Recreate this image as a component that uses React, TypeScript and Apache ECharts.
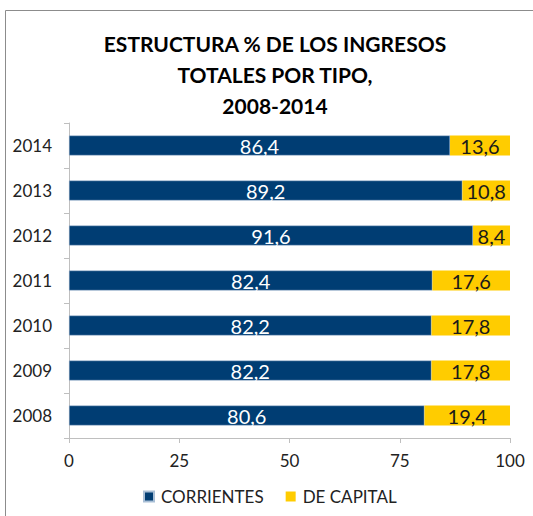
import React, { useEffect, useRef } from "react";
import * as echarts from "echarts";

const years = ["2008", "2009", "2010", "2011", "2012", "2013", "2014"];
const corrientes = [80.6, 82.2, 82.2, 82.4, 91.6, 89.2, 86.4];
const deCapital = [19.4, 17.8, 17.8, 17.6, 8.4, 10.8, 13.6];
const seriesNames = ["CORRIENTES", "DE CAPITAL"];
const titleText = "ESTRUCTURA % DE LOS INGRESOS\nTOTALES POR TIPO,\n2008-2014";

const FONT = "Lato";

export default function App() {
  const ref = useRef<HTMLDivElement>(null);
  useEffect(() => {
    if (!ref.current) return;
    const chart = echarts.init(ref.current, undefined, { renderer: "svg" });
    const fmt = (p: any) => String(p.value).replace(".", ",");
    chart.setOption({
      animation: false,
      backgroundColor: "#ffffff",
      title: {
        text: titleText,
        left: 270,
        textAlign: "center",
        top: 23,
        textStyle: {
          fontFamily: FONT,
          fontSize: 21,
          fontWeight: "bold",
          color: "#000",
          lineHeight: 31,
        },
      },
      graphic: [
        {
          type: "rect",
          shape: { x: 5.5, y: 10.5, width: 600, height: 600 },
          style: { fill: "none", stroke: "#8c8c8c", lineWidth: 1 },
          silent: true,
        },
      ],
      legend: {
        data: seriesNames,
        bottom: 6,
        left: 138,
        padding: 5,
        icon: "rect",
        itemWidth: 10,
        itemHeight: 10,
        itemGap: 22,
        textStyle: { fontFamily: FONT, fontSize: 17, color: "#222", padding: [0, 0, 0, 2] },
      },
      grid: { left: 69, right: 23, top: 123, bottom: 78 },
      xAxis: {
        type: "value",
        min: 0,
        max: 100,
        interval: 25,
        splitLine: { show: false },
        axisLine: { show: true, lineStyle: { color: "#bfbfbf" } },
        axisTick: { show: true, length: 5, lineStyle: { color: "#bfbfbf" } },
        axisLabel: { fontFamily: FONT, fontSize: 17, color: "#222", margin: 14 },
      },
      yAxis: {
        type: "category",
        data: years,
        axisLine: { show: true, lineStyle: { color: "#bfbfbf" } },
        axisTick: { show: true, length: 5, lineStyle: { color: "#bfbfbf" } },
        axisLabel: { fontFamily: FONT, fontSize: 17, color: "#222", margin: 17 },
      },
      series: [
        {
          name: seriesNames[0],
          type: "bar",
          stack: "total",
          data: corrientes,
          barWidth: 20,
          itemStyle: { color: "#003d73", borderColor: "#a9bfd6", borderWidth: 0.5 },
          label: {
            show: true,
            position: "inside",
            formatter: fmt,
            fontFamily: FONT,
            fontSize: 20,
            color: "#ffffff",
          },
        },
        {
          name: seriesNames[1],
          type: "bar",
          stack: "total",
          data: deCapital,
          barWidth: 20,
          itemStyle: { color: "#ffcc00" },
          label: {
            show: true,
            position: "inside",
            formatter: fmt,
            fontFamily: FONT,
            fontSize: 20,
            color: "#1a1a1a",
          },
        },
      ],
    });
    return () => chart.dispose();
  }, []);
  return (
    <div
      ref={ref}
      style={{ position: "fixed", left: 0, top: 0, width: 533, height: 516 }}
    />
  );
}
